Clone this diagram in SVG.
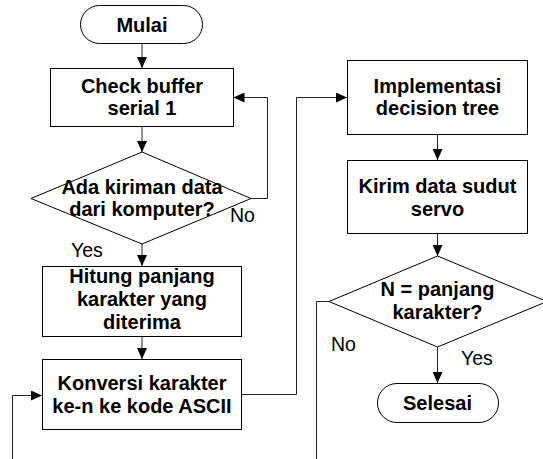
<svg xmlns="http://www.w3.org/2000/svg" width="543" height="459" viewBox="0 0 543 459">
<style>
.shape{fill:#fff;stroke:#000;stroke-width:1}
.conn{fill:none;stroke:#222;stroke-width:1}
.t{font-family:"Liberation Sans",Arial,sans-serif;font-weight:bold;font-size:20px;fill:#000;text-anchor:middle}
.lbl{font-family:"Liberation Sans",Arial,sans-serif;font-size:19.5px;fill:#000}
</style>
<defs>
<marker id="arr" viewBox="0 0 11 10" refX="11" refY="5" markerWidth="11" markerHeight="10" markerUnits="userSpaceOnUse" orient="auto">
<path d="M0,0 L11,5 L0,10 z" fill="#000"/>
</marker>
</defs>
<g id="connectors">
<path class="conn" d="M142,44 V68" marker-end="url(#arr)"/>
<path class="conn" d="M142,127 V152" marker-end="url(#arr)"/>
<path class="conn" d="M251,198.5 H267.5 V97.5 H233.5" marker-end="url(#arr)"/>
<path class="conn" d="M142,244 V266" marker-end="url(#arr)"/>
<path class="conn" d="M142,337 V359" marker-end="url(#arr)"/>
<path class="conn" d="M242,394.5 H296.5 V97.5 H347" marker-end="url(#arr)"/>
<path class="conn" d="M12.5,459 V395.5 H42" marker-end="url(#arr)"/>
<path class="conn" d="M437.5,135 V160" marker-end="url(#arr)"/>
<path class="conn" d="M437.5,234 V256" marker-end="url(#arr)"/>
<path class="conn" d="M437.5,347 V383" marker-end="url(#arr)"/>
<path class="conn" d="M329,301.5 H316.5 V459"/>
</g>
<g id="mulai">
<rect class="shape" x="80.5" y="5.5" width="122" height="38" rx="19"/>
<text class="t" x="142" y="32">Mulai</text>
</g>
<g id="check">
<rect class="shape" x="50.5" y="68.5" width="183" height="58"/>
<text class="t" x="142" y="93">Check buffer</text>
<text class="t" x="142" y="115">serial 1</text>
</g>
<g id="ada">
<path class="shape" d="M142,152 L251,198.5 L142,244 L31,198.5 Z"/>
<text class="t" x="142" y="194">Ada kiriman data</text>
<text class="t" x="142" y="216">dari komputer?</text>
<text class="lbl" x="230" y="222">No</text>
<text class="lbl" x="71" y="257">Yes</text>
</g>
<g id="hitung">
<rect class="shape" x="42.5" y="266.5" width="199" height="70"/>
<text class="t" x="142" y="283">Hitung panjang</text>
<text class="t" x="142" y="306">karakter yang</text>
<text class="t" x="142" y="329">diterima</text>
</g>
<g id="konversi">
<rect class="shape" x="42.5" y="359.5" width="199" height="70"/>
<text class="t" x="142" y="390">Konversi karakter</text>
<text class="t" x="142" y="413">ke-n ke kode ASCII</text>
</g>
<g id="implementasi">
<rect class="shape" x="347.5" y="60.5" width="180" height="74"/>
<text class="t" x="437.5" y="93">Implementasi</text>
<text class="t" x="437.5" y="115">decision tree</text>
</g>
<g id="kirim">
<rect class="shape" x="347.5" y="160.5" width="180" height="73"/>
<text class="t" x="437.5" y="193">Kirim data sudut</text>
<text class="t" x="437.5" y="216">servo</text>
</g>
<g id="n-panjang">
<path class="shape" d="M437.5,256 L547,301.5 L437.5,347 L329,301.5 Z"/>
<text class="t" x="437.5" y="296">N = panjang</text>
<text class="t" x="437.5" y="319">karakter?</text>
<text class="lbl" x="331" y="351">No</text>
<text class="lbl" x="461" y="365">Yes</text>
</g>
<g id="selesai">
<rect class="shape" x="377.5" y="383.5" width="121" height="39" rx="19.5"/>
<text class="t" x="437.5" y="410">Selesai</text>
</g>
</svg>
